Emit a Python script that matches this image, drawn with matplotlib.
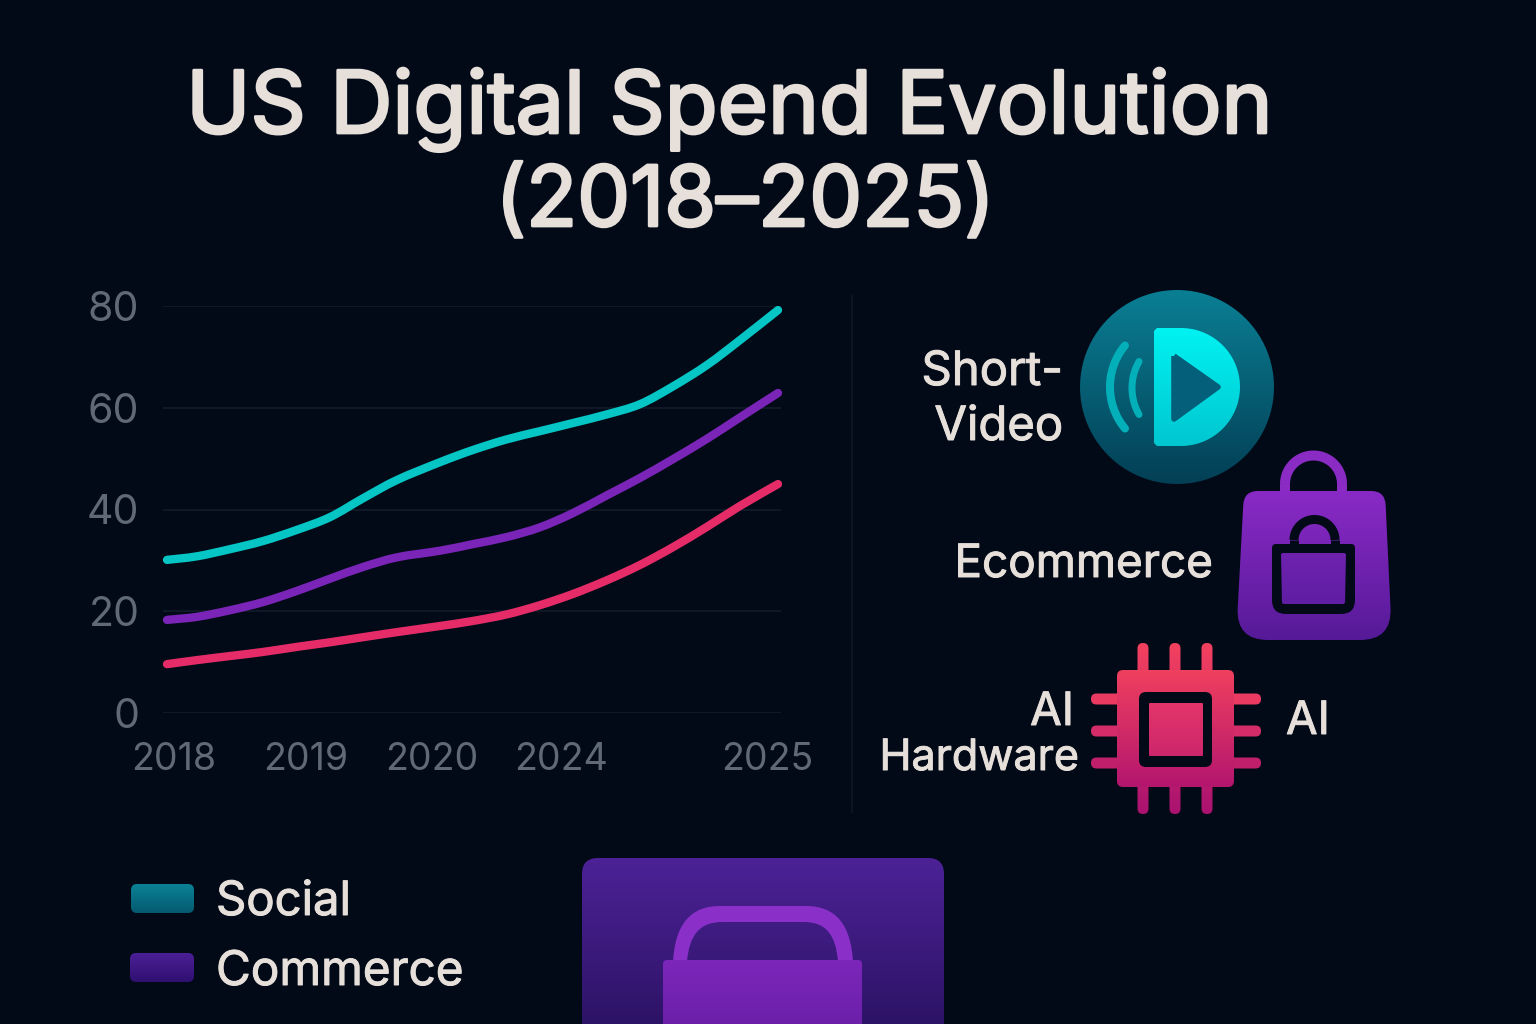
import numpy as np
import matplotlib
matplotlib.use("Agg")
import matplotlib.pyplot as plt
import matplotlib.patheffects as pe
from matplotlib.colors import LinearSegmentedColormap
from matplotlib.patches import PathPatch
from matplotlib.path import Path

BG = "#020a18"
TEXT = "#e6dfda"
TICK = "#5f6a76"
GRID = "#121c2a"

# values, x_pos is position along the (uneven) axis
x_pos = [167, 197, 230, 263, 297, 330, 363, 397, 440, 473, 507, 540, 573, 607, 640, 673, 707, 740, 778]
social = [30.1, 30.8, 32.2, 33.8, 36.0, 38.5, 42.2, 45.8, 49.3, 51.7, 53.8, 55.4, 57.0, 58.7, 60.7, 64.2, 68.4, 73.3, 79.2]
commerce = [18.3, 18.9, 20.2, 21.8, 24.0, 26.4, 28.7, 30.6, 31.9, 33.2, 34.6, 36.5, 39.3, 42.8, 46.2, 49.9, 53.9, 58.1, 62.9]
ai_hw = [9.6, 10.4, 11.2, 12.0, 13.0, 13.9, 14.9, 15.9, 17.1, 18.1, 19.4, 21.2, 23.4, 26.1, 29.1, 32.6, 36.6, 40.7, 45.0]

year_pos = [174, 306, 432, 561, 767]
year_labels = ["2018", "2019", "2020", "2024", "2025"]
y_ticks = [0, 20, 40, 60, 80]

plt.rcParams["font.family"] = ["Inter", "DejaVu Sans"]

W, H = 1536, 1024
fig = plt.figure(figsize=(W / 100, H / 100), dpi=100, facecolor=BG)


def px_axes(left, top, right, bottom):
    return fig.add_axes([left / W, 1 - bottom / H, (right - left) / W, (bottom - top) / H])


# overlay in pixel coords for the icons and labels
ov = fig.add_axes([0, 0, 1, 1], zorder=1)
ov.set_xlim(0, W)
ov.set_ylim(H, 0)
ov.axis("off")


def rounded(pts, radii):
    # closed polygon with rounded corners
    pts = np.array(pts, dtype=float)
    n = len(pts)
    if np.isscalar(radii):
        radii = [radii] * n
    verts, codes = [], []
    for i in range(n):
        p, a, b = pts[i], pts[i - 1], pts[(i + 1) % n]
        da = (a - p) / np.linalg.norm(a - p)
        db = (b - p) / np.linalg.norm(b - p)
        s, e = p + da * radii[i], p + db * radii[i]
        verts.append(s)
        codes.append(Path.MOVETO if i == 0 else Path.LINETO)
        verts += [p, e]
        codes += [Path.CURVE3, Path.CURVE3]
    verts.append(verts[0])
    codes.append(Path.CLOSEPOLY)
    return Path(verts, codes)


def rrect(x0, y0, x1, y1, r):
    return rounded([(x0, y0), (x1, y0), (x1, y1), (x0, y1)], r)


def grad_fill(path, top, bottom, extent, z=2):
    # vertical gradient clipped to a path
    cmap = LinearSegmentedColormap.from_list("g", [top, bottom])
    x0, y0, x1, y1 = extent
    im = ov.imshow(np.linspace(0, 1, 256)[:, None], cmap=cmap, extent=(x0, x1, y1, y0),
                   aspect="auto", zorder=z, interpolation="bilinear")
    patch = PathPatch(path, transform=ov.transData, fc="none", ec="none")
    ov.add_patch(patch)
    im.set_clip_path(patch)
    ov.set_xlim(0, W)
    ov.set_ylim(H, 0)


def flat(path, color, z=3):
    ov.add_patch(PathPatch(path, fc=color, ec="none", zorder=z))


def stroke(xs, ys, color, px, z=3, cap="round"):
    ov.plot(xs, ys, color=color, lw=px * 0.72, solid_capstyle=cap, zorder=z)


def smooth_line(axis, xs, ys, color):
    # curve through the read points, no new data
    p = np.c_[xs, ys]
    verts, codes = [p[0]], [Path.MOVETO]
    for i in range(len(p) - 1):
        prev = p[max(i - 1, 0)]
        nxt = p[min(i + 2, len(p) - 1)]
        verts += [p[i] + (p[i + 1] - prev) / 6, p[i + 1] - (nxt - p[i]) / 6, p[i + 1]]
        codes += [Path.CURVE4] * 3
    axis.add_patch(PathPatch(Path(verts, codes), fc="none", ec=color, lw=6.0,
                             capstyle="round", joinstyle="round", clip_on=False))


# chart
ax = px_axes(163, 306, 781, 713)
ax.set_facecolor("none")
ax.set_xlim(163, 781)
ax.set_ylim(0, 80)
for s in ax.spines.values():
    s.set_visible(False)
ax.set_yticks(y_ticks)
ax.set_yticklabels([str(v) for v in y_ticks])
ax.set_xticks(year_pos)
ax.set_xticklabels(year_labels)
ax.tick_params(axis="y", length=0, labelsize=29.5, labelcolor=TICK, pad=17)
ax.tick_params(axis="x", length=0, labelsize=27, labelcolor=TICK, pad=21)
ax.grid(axis="y", color=GRID, lw=1.2)
ax.set_axisbelow(True)
smooth_line(ax, x_pos, social, "#05c6c4")
smooth_line(ax, x_pos, commerce, "#7a25b8")
smooth_line(ax, x_pos, ai_hw, "#e62c68")

# divider
ov.plot([852, 852], [296, 812], color="#0e1825", lw=1.2, zorder=1)

# title
bold = [pe.withStroke(linewidth=2.0, foreground=TEXT)]
ov.text(729, 133, "US Digital Spend Evolution", ha="center", va="baseline", fontsize=62.2, color=TEXT, path_effects=bold)
ov.text(745, 226, "(2018\u20132025)", ha="center", va="baseline", fontsize=60.4, color=TEXT, path_effects=bold)

# short video icon
cx, cy, r = 1177, 387, 97
t = np.linspace(0, 2 * np.pi, 200)
circ = Path(np.c_[cx + r * np.cos(t), cy + r * np.sin(t)])
grad_fill(circ, "#0a7f94", "#033f55", (cx - r, cy - r, cx + r, cy + r))
a = np.linspace(-np.pi / 2, np.pi / 2, 60)
d_verts = np.r_[np.c_[1181 + 59 * np.cos(a), 387 + 59 * np.sin(a)], [[1157, 446], [1154, 443], [1154, 331], [1157, 328]]]
grad_fill(Path(d_verts), "#00f2f2", "#00c6d0", (1154, 328, 1240, 446), z=3)
ov.add_patch(PathPatch(Path([(1174, 356), (1218, 387), (1174, 419), (1174, 356)]),
                       fc="#04607a", ec="#04607a", lw=4, joinstyle="round", zorder=4))
a = np.radians(np.linspace(140.3, 219.7, 40))
stroke(1175 + 65 * np.cos(a), 387 + 65 * np.sin(a), "#03b0ba", 8)
a = np.radians(np.linspace(150.4, 209.6, 40))
stroke(1185.6 + 53.6 * np.cos(a), 388 + 53.6 * np.sin(a), "#03b0ba", 7)

# shopping bag icon
a = np.linspace(np.pi, 2 * np.pi, 60)
stroke(1313.5 + 28.5 * np.cos(a), 484 + 28.5 * np.sin(a), "#8a2cc4", 10, cap="butt")
stroke([1285, 1285], [484, 492], "#8a2cc4", 10, cap="butt")
stroke([1342, 1342], [484, 492], "#8a2cc4", 10, cap="butt")
bag = rounded([(1244, 491), (1385, 491), (1392, 640), (1236, 640)], [14, 14, 32, 32])
grad_fill(bag, "#8a2ac6", "#561a98", (1236, 491, 1392, 640))
a = np.linspace(np.pi, 2 * np.pi, 60)
stroke(1314.5 + 20.5 * np.cos(a), 540 + 20.5 * np.sin(a), BG, 9, cap="butt")
stroke([1294, 1294], [540, 548], BG, 9, cap="butt")
stroke([1335, 1335], [540, 548], BG, 9, cap="butt")
flat(rounded([(1272, 544), (1355, 544), (1355, 614), (1272, 614)], [4, 4, 14, 14]), BG)
grad_fill(rounded([(1281, 553), (1346, 553), (1345, 604), (1282, 604)], 2), "#6f22ae", "#5f1ea4", (1281, 553, 1346, 604), z=4)

# chip icon
chip_top, chip_bot = "#f4415f", "#aa1270"
for px_x in [1143, 1175, 1207]:
    grad_fill(rrect(px_x - 5.5, 643, px_x + 5.5, 814, 5.4), chip_top, chip_bot, (px_x - 6, 643, px_x + 6, 814))
for px_y, col in [(699, "#ea3a62"), (731, "#d42c68"), (763, "#c01f6c")]:
    flat(rrect(1091, px_y - 5.5, 1261, px_y + 5.5, 5.4), col, z=2)
grad_fill(rrect(1117, 670, 1234, 787, 6), "#f0405f", "#b3166e", (1117, 670, 1234, 787), z=3)
flat(rrect(1139, 692, 1212, 767, 7), BG, z=4)
grad_fill(rrect(1149, 703, 1203, 756, 1), "#e4356a", "#cc266c", (1149, 703, 1203, 756), z=5)

# icon labels
med = [pe.withStroke(linewidth=0.7, foreground=TEXT)]
lab = dict(color=TEXT, va="baseline", zorder=6, path_effects=med)
ov.text(1063, 385, "Short-", ha="right", fontsize=34, **lab)
ov.text(1063, 440, "Video", ha="right", fontsize=34, **lab)
ov.text(1213, 577, "Ecommerce", ha="right", fontsize=33, **lab)
ov.text(1074, 725, "AI", ha="right", fontsize=33, **lab)
ov.text(1079, 770, "Hardware", ha="right", fontsize=31, **lab)
ov.text(1286, 734, "AI", ha="left", fontsize=33, **lab)

# legend
grad_fill(rrect(131, 884, 194, 913, 6), "#0b8296", "#055a70", (131, 884, 194, 913))
grad_fill(rrect(130, 953, 194, 982, 6), "#4c1f96", "#2f1070", (130, 953, 194, 982))
ov.text(216, 915, "Social", ha="left", fontsize=34, **lab)
ov.text(216, 985, "Commerce", ha="left", fontsize=34.3, **lab)

# big bag panel cut off at the bottom
panel = (582, 858, 944, 1060)
grad_fill(rrect(582, 858, 944, 1060, 16), "#4c2296", "#26105c", panel)
outer = Path([(673, 962), (675, 925), (690, 906), (720, 906), (806, 906), (836, 906), (851, 925), (853, 962), (673, 962)],
             [Path.MOVETO, Path.CURVE4, Path.CURVE4, Path.CURVE4, Path.LINETO, Path.CURVE4, Path.CURVE4, Path.CURVE4, Path.CLOSEPOLY])
inner = Path([(687, 962), (689, 935), (700, 922), (722, 922), (804, 922), (826, 922), (836, 935), (838, 962), (687, 962)],
             outer.codes)
flat(outer, "#8a30c8", z=3)
grad_fill(inner, "#4c2296", "#26105c", panel, z=3.5)
grad_fill(rrect(663, 960, 862, 1060, 4), "#7c26ba", "#6a20a8", (663, 960, 862, 1030), z=4)

fig.savefig("out.png", dpi=100, facecolor=BG)
